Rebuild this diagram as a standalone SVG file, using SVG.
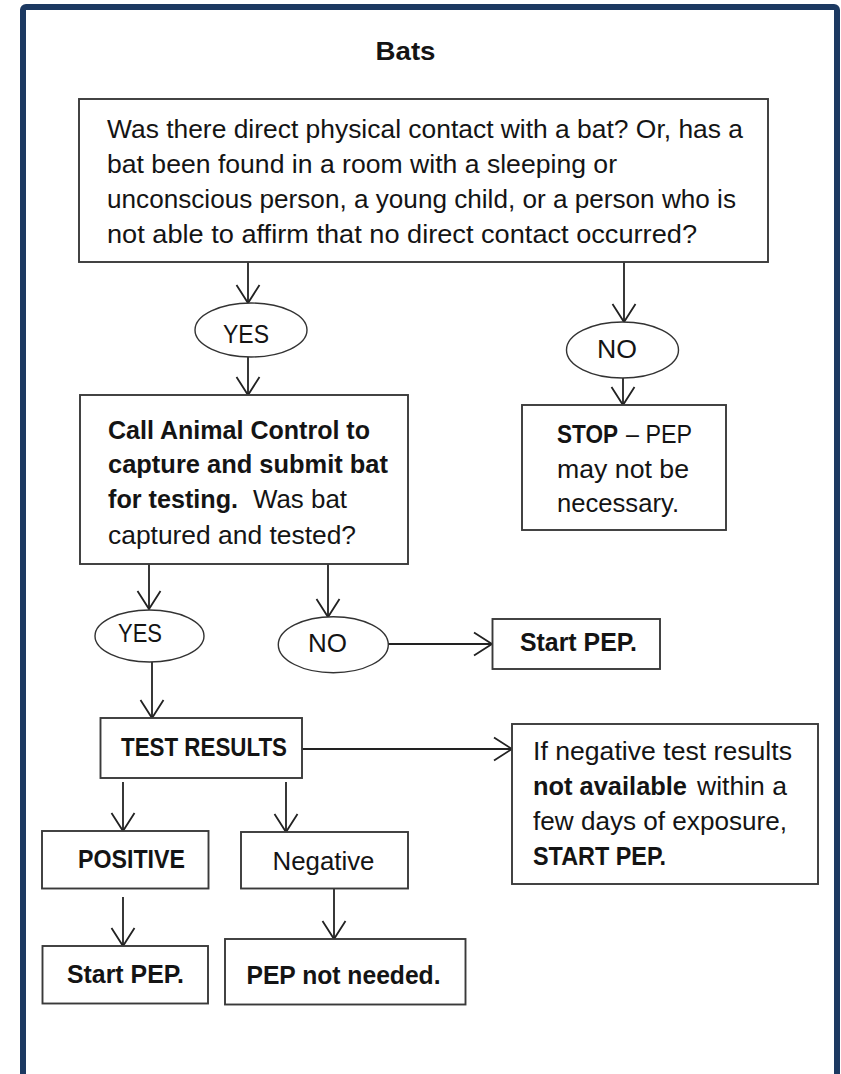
<svg xmlns="http://www.w3.org/2000/svg" width="841" height="1074" viewBox="0 0 841 1074">
  <style>
    .box { fill: #ffffff; stroke: #3a3a3a; stroke-width: 1.9; }
    .oval { fill: #ffffff; stroke: #333333; stroke-width: 1.4; }
    .t { font-family: "Liberation Sans", Arial, sans-serif; font-size: 26px; fill: #141414; }
    .b { font-weight: bold; }
    .conn line { stroke: #222222; stroke-width: 1.8; fill: none; marker-end: url(#arr); }
  </style>
  <defs>
    <marker id="arr" markerUnits="userSpaceOnUse" markerWidth="40" markerHeight="40" refX="0" refY="0" viewBox="-20 -20 40 40" orient="auto" overflow="visible">
      <path d="M-18,-11.5 L0,0 L-18,11.5" fill="none" stroke="#222222" stroke-width="1.8"/>
    </marker>
  </defs>
  <rect x="0" y="0" width="841" height="1074" fill="#ffffff"/>
  <rect id="frame" x="23" y="7" width="814" height="1110" rx="3" fill="#ffffff" stroke="#1c3961" stroke-width="6"/>

  <text id="title" class="t b" x="375.5" y="60" font-size="28" textLength="60" lengthAdjust="spacingAndGlyphs">Bats</text>

  <g class="conn" id="connectors">
    <line x1="248" y1="262" x2="248" y2="303"/>
    <line x1="248" y1="357" x2="248" y2="395"/>
    <line x1="624" y1="262" x2="624" y2="322"/>
    <line x1="623" y1="378" x2="623" y2="405"/>
    <line x1="149" y1="564" x2="149" y2="609"/>
    <line x1="328" y1="564" x2="328" y2="617"/>
    <line x1="388" y1="644" x2="492" y2="644"/>
    <line x1="152" y1="662" x2="152" y2="718"/>
    <line x1="302" y1="749" x2="512" y2="749"/>
    <line x1="123" y1="782" x2="123" y2="831"/>
    <line x1="286" y1="782" x2="286" y2="832"/>
    <line x1="123" y1="897" x2="123" y2="946"/>
    <line x1="334" y1="888" x2="334" y2="939"/>
  </g>

  <g id="q1">
    <rect class="box" x="79" y="99" width="689" height="163"/>
    <text class="t" x="107" y="138" textLength="636" lengthAdjust="spacingAndGlyphs">Was there direct physical contact with a bat? Or, has a</text>
    <text class="t" x="107" y="173" textLength="510" lengthAdjust="spacingAndGlyphs">bat been found in a room with a sleeping or</text>
    <text class="t" x="107" y="208" textLength="629" lengthAdjust="spacingAndGlyphs">unconscious person, a young child, or a person who is</text>
    <text class="t" x="107" y="243" textLength="590" lengthAdjust="spacingAndGlyphs">not able to affirm that no direct contact occurred?</text>
  </g>

  <g id="yes1">
    <ellipse class="oval" cx="251" cy="330" rx="56" ry="27"/>
    <text class="t" x="223" y="343" textLength="46" lengthAdjust="spacingAndGlyphs">YES</text>
  </g>

  <g id="no1">
    <ellipse class="oval" cx="622.5" cy="350" rx="56" ry="28"/>
    <text class="t" x="597" y="358" textLength="40" lengthAdjust="spacingAndGlyphs">NO</text>
  </g>

  <g id="call">
    <rect class="box" x="80" y="395" width="328" height="169"/>
    <text class="t b" x="108" y="439" textLength="262" lengthAdjust="spacingAndGlyphs">Call Animal Control to</text>
    <text class="t b" x="108" y="473" textLength="280" lengthAdjust="spacingAndGlyphs">capture and submit bat</text>
    <text class="t b" x="108" y="508" textLength="130" lengthAdjust="spacingAndGlyphs">for testing.</text>
    <text class="t" x="253" y="508" textLength="94" lengthAdjust="spacingAndGlyphs">Was bat</text>
    <text class="t" x="108" y="544" textLength="248" lengthAdjust="spacingAndGlyphs">captured and tested?</text>
  </g>

  <g id="stop">
    <rect class="box" x="522" y="405" width="204" height="125"/>
    <text class="t b" x="557" y="443" textLength="61" lengthAdjust="spacingAndGlyphs">STOP</text>
    <text class="t" x="626" y="443" textLength="66" lengthAdjust="spacingAndGlyphs">– PEP</text>
    <text class="t" x="557" y="478" textLength="132" lengthAdjust="spacingAndGlyphs">may not be</text>
    <text class="t" x="557" y="512" textLength="122" lengthAdjust="spacingAndGlyphs">necessary.</text>
  </g>

  <g id="yes2">
    <ellipse class="oval" cx="149.5" cy="636" rx="54.5" ry="26"/>
    <text class="t" x="118" y="642" textLength="44" lengthAdjust="spacingAndGlyphs">YES</text>
  </g>

  <g id="no2">
    <ellipse class="oval" cx="333.3" cy="644.7" rx="55" ry="28"/>
    <text class="t" x="308" y="652" textLength="39" lengthAdjust="spacingAndGlyphs">NO</text>
  </g>

  <g id="start1">
    <rect class="box" x="492.5" y="619" width="167.5" height="50"/>
    <text class="t b" x="520" y="651" textLength="117" lengthAdjust="spacingAndGlyphs">Start PEP.</text>
  </g>

  <g id="test">
    <rect class="box" x="100.5" y="718" width="201.5" height="60"/>
    <text class="t b" x="121" y="756" textLength="166" lengthAdjust="spacingAndGlyphs">TEST RESULTS</text>
  </g>

  <g id="ifneg">
    <rect class="box" x="512" y="724" width="306" height="160"/>
    <text class="t" x="533" y="760" textLength="259" lengthAdjust="spacingAndGlyphs">If negative test results</text>
    <text class="t b" x="533" y="795" textLength="154" lengthAdjust="spacingAndGlyphs">not available</text>
    <text class="t" x="697" y="795" textLength="90" lengthAdjust="spacingAndGlyphs">within a</text>
    <text class="t" x="533" y="830" textLength="254" lengthAdjust="spacingAndGlyphs">few days of exposure,</text>
    <text class="t b" x="533" y="865" textLength="133" lengthAdjust="spacingAndGlyphs">START PEP.</text>
  </g>

  <g id="positive">
    <rect class="box" x="42" y="831" width="166.5" height="57.5"/>
    <text class="t b" x="78" y="868" textLength="107" lengthAdjust="spacingAndGlyphs">POSITIVE</text>
  </g>

  <g id="negative">
    <rect class="box" x="241" y="832" width="167" height="56.5"/>
    <text class="t" x="272.5" y="870" textLength="102" lengthAdjust="spacingAndGlyphs">Negative</text>
  </g>

  <g id="start2">
    <rect class="box" x="42.5" y="946" width="165.5" height="57.5"/>
    <text class="t b" x="67" y="983" textLength="117" lengthAdjust="spacingAndGlyphs">Start PEP.</text>
  </g>

  <g id="notneeded">
    <rect class="box" x="225" y="939" width="240.5" height="65.5"/>
    <text class="t b" x="246.5" y="984" textLength="194" lengthAdjust="spacingAndGlyphs">PEP not needed.</text>
  </g>
</svg>
